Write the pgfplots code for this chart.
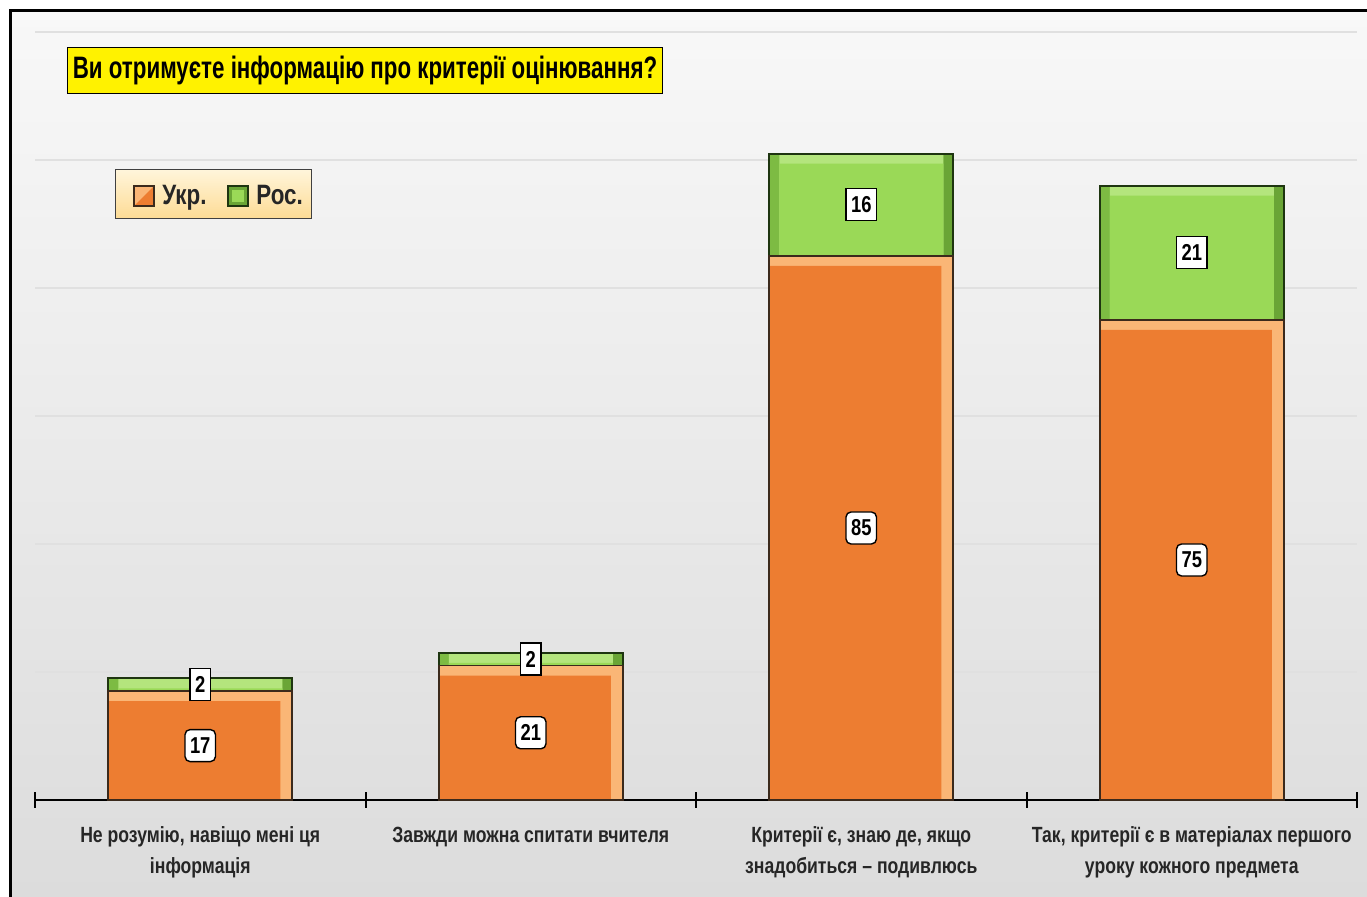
\documentclass[border=0pt]{standalone}
\usepackage{fontspec}
\setmainfont{Liberation Sans}[FakeStretch=0.8]
\newfontfamily\condfont{Liberation Sans}[FakeStretch=0.72]
\usepackage{pgfplots}
\usepackage{pgfplotstable}
\pgfplotsset{compat=1.18}
\definecolor{ukr}{HTML}{ED7D31}
\definecolor{ukrlight}{HTML}{FAB676}
\definecolor{ukredge}{HTML}{3B2A1C}
\definecolor{ros}{HTML}{9AD957}
\definecolor{roslight}{HTML}{B4E57D}
\definecolor{rosmid}{HTML}{7DBB43}
\definecolor{rosdark}{HTML}{6AA536}
\definecolor{rosedge}{HTML}{1E3510}
\definecolor{bgtop}{HTML}{F8F8F8}
\definecolor{bgbot}{HTML}{DCDCDC}
\definecolor{txt}{HTML}{262626}
\definecolor{legtop}{HTML}{FFF5DA}
\definecolor{legbot}{HTML}{FDDB94}

% answers: Ukrainian and Russian language groups
\pgfplotstableread{
x ukr ros
0 17 2
1 21 2
2 85 16
3 75 21
}\answers

\pgfplotsset{
  /pgf/number format/assume math mode=true,
  bar/.style={ybar, bar width=#1, bar shift=0pt, draw=none, forget plot},
}
\tikzset{
  vallabel/.style={anchor=center, fill=white, draw=black, line width=0.7pt,
    inner sep=2.5pt, minimum height=16pt, text=black,
    font=\fontsize{11.5}{12}\selectfont\bfseries},
}
% 1.5625 units = 5pt of bevel at 3.2pt per unit

\begin{document}
\begin{tikzpicture}[x=0.5pt,y=0.5pt]
\useasboundingbox (0,0) rectangle (1367,897);
\fill[white] (0,0) rectangle (1367,897);
\shade[top color=bgtop,bottom color=bgbot] (10,0) rectangle (1367,886);
\draw[line width=1.5pt] (10,-5) -- (10,886) -- (1372,886);

\begin{axis}[
  at={(17.5pt,48.5pt)}, anchor=south west, scale only axis,
  width=661pt, height=384pt,
  xmin=-0.5, xmax=3.5, ymin=0, ymax=120,
  axis x line*=bottom, axis y line*=left,
  y axis line style={draw=none},
  x axis line style={line width=1pt, black},
  xtick={-0.5,0.5,1.5,2.5,3.5}, xticklabels={},
  major tick length=8pt, tick align=center,
  x tick style={line width=1pt, black},
  ytick={20,40,60,80,100,120}, yticklabels={},
  y tick style={draw=none},
  ymajorgrids, grid style={line width=0.8pt, color=black!12},
  extra x ticks={0,1,2,3},
  extra x tick labels={
    {Не розумію, навіщо мені ця\\інформація},
    {Завжди можна спитати вчителя},
    {Критерії є, знаю де, якщо\\знадобиться -- подивлюсь},
    {Так, критерії є в матеріалах першого\\уроку кожного предмета}},
  extra x tick style={tick style={draw=none}},
  xticklabel style={align=center, text=txt, yshift=-6pt,
    font=\fontsize{11}{15.5}\selectfont\bfseries},
  clip=false,
]
% Рос. segment (drawn full height, the Укр. part covers its lower part)
\addplot[bar=92pt, fill=rosdark]
  table[x=x, y expr=\thisrow{ukr}+\thisrow{ros}] {\answers};
\addplot[bar=87pt, bar shift=-2.5pt, fill=rosmid]
  table[x=x, y expr=\thisrow{ukr}+\thisrow{ros}] {\answers};
\addplot[bar=82pt, fill=roslight]
  table[x=x, y expr=\thisrow{ukr}+\thisrow{ros}] {\answers};
\addplot[bar=82pt, fill=ros]
  table[x=x, y expr=\thisrow{ukr}+\thisrow{ros}-1.5625] {\answers};
\addplot[bar=92pt, fill=none, draw=rosedge, line width=1pt]
  table[x=x, y expr=\thisrow{ukr}+\thisrow{ros}] {\answers};
% Укр. segment
\addplot[bar=92pt, fill=ukrlight]
  table[x=x, y=ukr] {\answers};
\addplot[bar=86pt, bar shift=-3pt, fill=ukr]
  table[x=x, y expr=\thisrow{ukr}-1.5625] {\answers};
\addplot[bar=92pt, fill=none, draw=ukredge, line width=0.8pt]
  table[x=x, y=ukr] {\answers};

\addplot[draw=none, mark=none, nodes near coords, point meta=explicit,
  every node near coord/.append style={vallabel, rounded corners=2.5pt}]
  table[x=x, y expr=\thisrow{ukr}/2, meta=ukr] {\answers};
\addplot[draw=none, mark=none, nodes near coords, point meta=explicit,
  every node near coord/.append style={vallabel}]
  table[x=x, y expr=\thisrow{ukr}+\thisrow{ros}/2, meta=ros] {\answers};
\end{axis}

% title
\node[fill=yellow, draw=black, line width=0.5pt, anchor=west,
  minimum width=297.5pt, minimum height=23pt, inner sep=2pt, text=black,
  font=\condfont\fontsize{15.5}{16}\selectfont\bfseries]
  at (67,826) {Ви отримуєте інформацію про критерії оцінювання?};

% legend
\shade[top color=legtop, bottom color=legbot, draw=black!75, line width=0.5pt]
  (115,678) rectangle (311,727);
\fill[ukr] (134,691) rectangle (154,711);
\fill[ukrlight] (134,711) -- (154,711) -- (134,691) -- cycle;
\draw[ukredge, line width=0.6pt] (134,691) rectangle (154,711);
\fill[rosdark] (228,691) rectangle (248,711);
\fill[ros] (232,695) rectangle (244,707);
\draw[rosedge, line width=0.6pt] (228,691) rectangle (248,711);
\node[anchor=base west, inner sep=0pt, text=txt,
  font=\fontsize{14}{14}\selectfont\bfseries] at (162,692) {Укр.};
\node[anchor=base west, inner sep=0pt, text=txt,
  font=\fontsize{14}{14}\selectfont\bfseries] at (256,692) {Рос.};
\end{tikzpicture}
\end{document}
